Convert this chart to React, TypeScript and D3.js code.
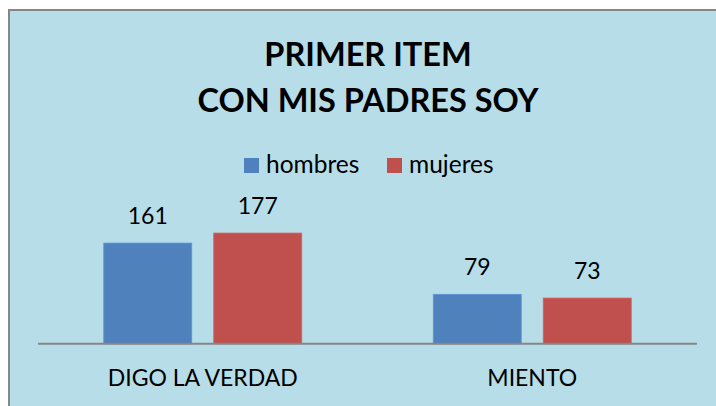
import React from 'react';
import * as d3 from 'd3';

const categories = ['DIGO LA VERDAD', 'MIENTO'];
const seriesNames = ['hombres', 'mujeres'];
const hombres = [161, 79];
const mujeres = [177, 73];
const colors = ['#4F81BD', '#C0504D'];
const titleLines = ['PRIMER ITEM', 'CON MIS PADRES SOY'];

const width = 716;
const height = 406;
const plotLeft = 38;
const plotRight = 697;
const baseY = 343.7;
const font = 'Lato, Carlito, Calibri, sans-serif';

export default function App() {
  const values = [hombres, mujeres];

  const x0 = d3
    .scaleBand()
    .domain(categories)
    .range([plotLeft, plotRight])
    .padding(0);

  const x1 = d3
    .scaleBand()
    .domain(seriesNames)
    .range([0, x0.bandwidth()])
    .paddingInner(0.2)
    .paddingOuter(0.598);

  const y = d3.scaleLinear().domain([0, 200]).range([baseY, baseY - 125]);

  return (
    <svg
      width={width}
      height={height}
      style={{ position: 'absolute', left: 0, top: 0, background: '#fff' }}
    >
      <rect
        x={9}
        y={10}
        width={740}
        height={420}
        fill="#B7DDE8"
        stroke="#868686"
        strokeWidth={2}
      />

      <g fontFamily={font} fontWeight="bold" fontSize={32.5} textAnchor="middle" fill="#000">
        {titleLines.map((t, i) => (
          <text key={t} x={368} y={66 + i * 46}>
            {t}
          </text>
        ))}
      </g>

      {/* legend */}
      <g fontFamily={font} fontSize={24.5} fill="#000">
        {seriesNames.map((s, i) => {
          const lx = i === 0 ? 244 : 387;
          return (
            <g key={s} transform={`translate(${lx},158)`}>
              <rect width={15} height={15} fill={colors[i]} />
              <text x={22} y={15}>
                {s}
              </text>
            </g>
          );
        })}
      </g>

      {/* bars */}
      {categories.map((c, ci) => (
        <g key={c} transform={`translate(${x0(c)},0)`}>
          {seriesNames.map((s, si) => {
            const v = values[si][ci];
            return (
              <g key={s}>
                <rect
                  x={x1(s)}
                  y={y(v)}
                  width={x1.bandwidth()}
                  height={baseY - y(v)}
                  fill={colors[si]}
                  stroke={d3.color(colors[si])!.brighter(0.4).formatHex()}
                  strokeWidth={0.8}
                />
                <text
                  x={(x1(s) as number) + x1.bandwidth() / 2}
                  y={y(v) - 19}
                  textAnchor="middle"
                  fontFamily={font}
                  fontSize={23}
                  fill="#000"
                >
                  {v}
                </text>
              </g>
            );
          })}
          <text
            x={x0.bandwidth() / 2}
            y={386}
            textAnchor="middle"
            fontFamily={font}
            fontSize={23}
            fill="#000"
          >
            {c}
          </text>
        </g>
      ))}

      <line
        x1={plotLeft}
        x2={plotRight}
        y1={baseY}
        y2={baseY}
        stroke="#868686"
        strokeWidth={2}
      />
    </svg>
  );
}
